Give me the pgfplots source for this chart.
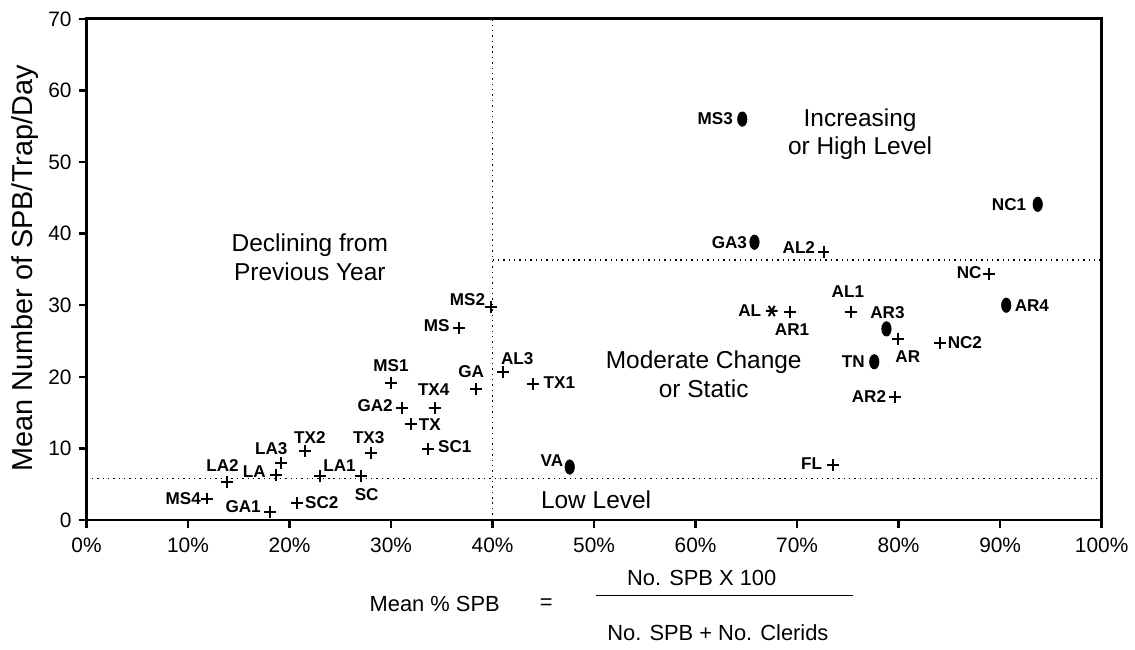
\documentclass[border=0pt]{standalone}
\usepackage{pgfplots}
\pgfplotsset{compat=1.18}
\usepackage{fontspec}
\setmainfont{Liberation Sans}
\begin{document}
\begin{tikzpicture}[
  lab/.style={font=\fontsize{8.6}{9.5}\selectfont\bfseries, inner sep=0pt},
  L/.style={lab, anchor=east},
  R/.style={lab, anchor=west},
  C/.style={lab, anchor=center},
  reg/.style={font=\fontsize{12.3}{14.5}\selectfont, align=center},
]
\begin{axis}[
  scale only axis, width=510.5pt, height=252pt,
  xmin=0, xmax=100, ymin=0, ymax=70,
  xtick={0,10,...,100}, xticklabel={\pgfmathprintnumber{\tick}\%},
  ytick={0,10,...,70},
  axis line style={line width=1.4pt},
  tick style={line width=1.2pt, black}, major tick length=4pt, tick align=outside,
  xtick pos=bottom, ytick pos=left,
  clip=false,
  ticklabel style={font=\fontsize{10.5}{12}\selectfont},
  xticklabel style={yshift=-1.5pt},
  /pgf/number format/assume math mode=true,
]
% region dividers
\addplot[black, dotted, line width=0.7pt] coordinates {(40,0) (40,70)};
\addplot[black, dotted, line width=0.7pt] coordinates {(0,5.8) (100,5.8)};
\addplot[black, dotted, line width=0.7pt] coordinates {(40,36.3) (100,36.3)};
% plus markers
\addplot[only marks, mark=+, mark size=3pt, line width=1pt, black] coordinates {
 (11.85,3.0) (13.8,5.3) (18.1,1.1) (18.7,6.3) (19.2,7.9) (21.5,9.7) (20.7,2.4)
 (23.0,6.1) (27.0,6.1) (28.0,9.3) (31.1,15.6) (34.3,15.6) (32.0,13.4) (33.6,9.9)
 (30.0,19.2) (39.8,29.7) (36.7,26.8) (38.4,18.3) (41.0,20.7) (44.0,19.0)
 (72.6,37.5) (88.9,34.3) (69.3,29.0) (75.3,29.1) (79.9,25.3) (84.1,24.7)
 (79.6,17.2) (73.5,7.7)};
% oval markers
\addplot[only marks, mark=*, mark size=3.6pt, black, mark options={xscale=0.65}] coordinates {
 (47.6,7.4) (64.6,56.0) (65.8,38.8) (93.7,44.1) (78.8,26.7) (90.6,30.0) (77.6,22.1)};
% asterisk
\addplot[only marks, mark=asterisk, mark size=3pt, line width=1pt, black, mark options={rotate=90}] coordinates {(67.5,29.2)};
% point labels
\node[L] at (axis cs:11.3,3.0) {MS4};
\node[C] at (axis cs:13.4,7.6) {LA2};
\node[L] at (axis cs:17.2,1.9) {GA1};
\node[L] at (axis cs:17.7,6.7) {LA};
\node[C] at (axis cs:18.2,10.0) {LA3};
\node[C] at (axis cs:22.0,11.5) {TX2};
\node[R] at (axis cs:21.5,2.4) {SC2};
\node[R] at (axis cs:23.3,7.6) {LA1};
\node[C] at (axis cs:27.6,3.6) {SC};
\node[C] at (axis cs:27.8,11.5) {TX3};
\node[L] at (axis cs:30.2,16.0) {GA2};
\node[C] at (axis cs:34.2,18.2) {TX4};
\node[R] at (axis cs:32.7,13.3) {TX};
\node[R] at (axis cs:34.6,10.3) {SC1};
\node[C] at (axis cs:30.0,21.5) {MS1};
\node[L] at (axis cs:39.3,30.8) {MS2};
\node[L] at (axis cs:35.8,27.1) {MS};
\node[C] at (axis cs:37.9,20.7) {GA};
\node[R] at (axis cs:40.8,22.5) {AL3};
\node[R] at (axis cs:45.0,19.2) {TX1};
\node[L] at (axis cs:47.0,8.3) {VA};
\node[L] at (axis cs:63.7,56.0) {MS3};
\node[L] at (axis cs:65.1,38.8) {GA3};
\node[L] at (axis cs:71.8,38.1) {AL2};
\node[L] at (axis cs:92.6,44.1) {NC1};
\node[L] at (axis cs:88.2,34.6) {NC};
\node[L] at (axis cs:66.5,29.3) {AL};
\node[C] at (axis cs:69.5,26.6) {AR1};
\node[C] at (axis cs:75.0,31.9) {AL1};
\node[C] at (axis cs:78.9,29.0) {AR3};
\node[C] at (axis cs:80.9,22.8) {AR};
\node[R] at (axis cs:84.8,24.8) {NC2};
\node[R] at (axis cs:91.4,30.0) {AR4};
\node[L] at (axis cs:76.7,22.1) {TN};
\node[L] at (axis cs:78.8,17.2) {AR2};
\node[L] at (axis cs:72.5,7.9) {FL};
% region labels
\node[reg] at (axis cs:22.0,36.7) {Declining from\\Previous Year};
\node[reg] at (axis cs:76.2,53.9) {Increasing\\or High Level};
\node[reg] at (axis cs:60.8,20.4) {Moderate Change\\or Static};
\node[reg] at (axis cs:50.2,2.8) {Low Level};
% axis labels
\node[font=\fontsize{14.5}{16}\selectfont, rotate=90] at ([xshift=-31pt]rel axis cs:0,0.502) {Mean Number of SPB/Trap/Day};
\node[font=\fontsize{11}{13}\selectfont] at (axis cs:34.3,-11.7) {Mean \% SPB};
\node[font=\fontsize{11}{13}\selectfont] at (axis cs:45.3,-11.7) {=};
\node[font=\fontsize{11}{13}\selectfont] at (axis cs:60.6,-8.1) {No. SPB X 100};
\draw[line width=0.6pt] (axis cs:50.2,-10.6) -- (axis cs:75.5,-10.6);
\node[font=\fontsize{11}{13}\selectfont] at (axis cs:62.2,-15.8) {No. SPB + No. Clerids};
% bounding box
\path ([xshift=-43.5pt,yshift=-65pt]rel axis cs:0,0) rectangle ([xshift=13.5pt,yshift=9.5pt]rel axis cs:1,1);
\end{axis}
\end{tikzpicture}
\end{document}
